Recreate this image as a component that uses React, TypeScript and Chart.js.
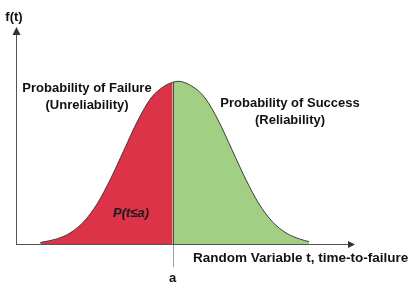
import React, { useEffect, useRef } from "react";
import { Chart, registerables } from "chart.js";

Chart.register(...registerables);

// Values (t in arbitrary units, f(t) density)
const failureT = [0.9, 1, 1.5, 2, 2.5, 3, 3.5, 4, 4.5, 5, 5.5, 5.8];
const failureF = [0.0019, 0.0026, 0.0065, 0.0142, 0.0284, 0.0516, 0.0839, 0.1213, 0.1587, 0.1884, 0.2039, 0.2088];
const successT = [5.8, 6, 6.5, 7, 7.5, 8, 8.5, 9, 9.5, 10, 10.5, 10.85];
const successF = [0.2088, 0.21, 0.2039, 0.1884, 0.1587, 0.1213, 0.0839, 0.0516, 0.0284, 0.0142, 0.0065, 0.003];
const aValue = 5.8;
const yAxisLabel = "f(t)";
const xAxisLabel = "Random Variable t, time-to-failure";
const aLabel = "a";
const failureLabel = ["Probability of Failure", "(Unreliability)"];
const successLabel = ["Probability of Success", "(Reliability)"];
const areaLabel = "P(t≤a)";

const FONT = '"Liberation Sans", Arial, sans-serif';

const decorPlugin = {
  id: "decor",
  afterDatasetsDraw(chart: any) {
    const { ctx, chartArea, scales } = chart;
    const xs = scales.x;
    const ys = scales.y;
    const left = chartArea.left;
    const base = ys.getPixelForValue(0);
    const top = chartArea.top;
    const right = chartArea.right;
    const ax = xs.getPixelForValue(aValue);
    ctx.save();

    // divider at a
    ctx.strokeStyle = "#4a4a4a";
    ctx.lineWidth = 1;
    ctx.beginPath();
    ctx.moveTo(Math.round(ax) + 0.5, base);
    ctx.lineTo(Math.round(ax) + 0.5, ys.getPixelForValue(failureF[failureF.length - 1]));
    ctx.stroke();

    // tick below axis at a
    ctx.strokeStyle = "#a0a0a0";
    ctx.beginPath();
    ctx.moveTo(Math.round(ax) + 0.5, base);
    ctx.lineTo(Math.round(ax) + 0.5, base + 23);
    ctx.stroke();

    // axes
    ctx.strokeStyle = "#555555";
    ctx.beginPath();
    ctx.moveTo(left + 0.5, base + 0.5);
    ctx.lineTo(left + 0.5, top + 6);
    ctx.moveTo(left, base + 0.5);
    ctx.lineTo(right - 6, base + 0.5);
    ctx.stroke();

    ctx.fillStyle = "#333333";
    ctx.beginPath();
    ctx.moveTo(left + 0.5, top);
    ctx.lineTo(left + 4.5, top + 8);
    ctx.lineTo(left - 3.5, top + 8);
    ctx.closePath();
    ctx.fill();
    ctx.beginPath();
    ctx.moveTo(right, base + 0.5);
    ctx.lineTo(right - 7, base + 4);
    ctx.lineTo(right - 7, base - 3);
    ctx.closePath();
    ctx.fill();

    // texts
    ctx.fillStyle = "#111111";
    ctx.textBaseline = "middle";
    ctx.textAlign = "center";
    ctx.font = `bold 13px ${FONT}`;
    ctx.fillText(yAxisLabel, left - 2, top - 10);
    ctx.fillText(failureLabel[0], 87, 88);
    ctx.fillText(failureLabel[1], 87, 105);
    ctx.fillText(successLabel[0], 290, 103);
    ctx.fillText(successLabel[1], 290, 120);
    ctx.fillText(aLabel, ax, base + 34);
    ctx.textAlign = "left";
    ctx.font = `bold 13.5px ${FONT}`;
    ctx.fillText(xAxisLabel, 193, base + 14);
    ctx.textAlign = "center";
    ctx.font = `italic bold 13px ${FONT}`;
    ctx.fillStyle = "#1a1a1a";
    ctx.fillText(areaLabel, 131, 213);
    ctx.restore();
  },
};

export default function App() {
  const ref = useRef<HTMLCanvasElement>(null);
  useEffect(() => {
    if (!ref.current) return;
    const chart = new Chart(ref.current, {
      type: "line",
      data: {
        datasets: [
          {
            data: failureT.map((t, i) => ({ x: t, y: failureF[i] })),
            backgroundColor: "#DC3349",
            borderColor: "#3d3d3d",
            borderWidth: 1,
            fill: "origin",
            pointRadius: 0,
            cubicInterpolationMode: "monotone",
          },
          {
            data: successT.map((t, i) => ({ x: t, y: successF[i] })),
            backgroundColor: "#A1CF84",
            borderColor: "#3d3d3d",
            borderWidth: 1,
            fill: "origin",
            pointRadius: 0,
            cubicInterpolationMode: "monotone",
          },
        ],
      },
      options: {
        responsive: false,
        animation: false,
        layout: { padding: { left: 16, right: 56, top: 27, bottom: 46 } },
        plugins: { legend: { display: false }, tooltip: { enabled: false } },
        scales: {
          x: { type: "linear", min: 0, max: 12.55, display: false },
          y: { type: "linear", min: 0, max: 0.28, display: false },
        },
      },
      plugins: [decorPlugin],
    });
    return () => chart.destroy();
  }, []);
  return (
    <div style={{ position: "fixed", left: 0, top: 0, width: 411, height: 290, background: "#fff" }}>
      <canvas ref={ref} width={411} height={290} />
    </div>
  );
}
